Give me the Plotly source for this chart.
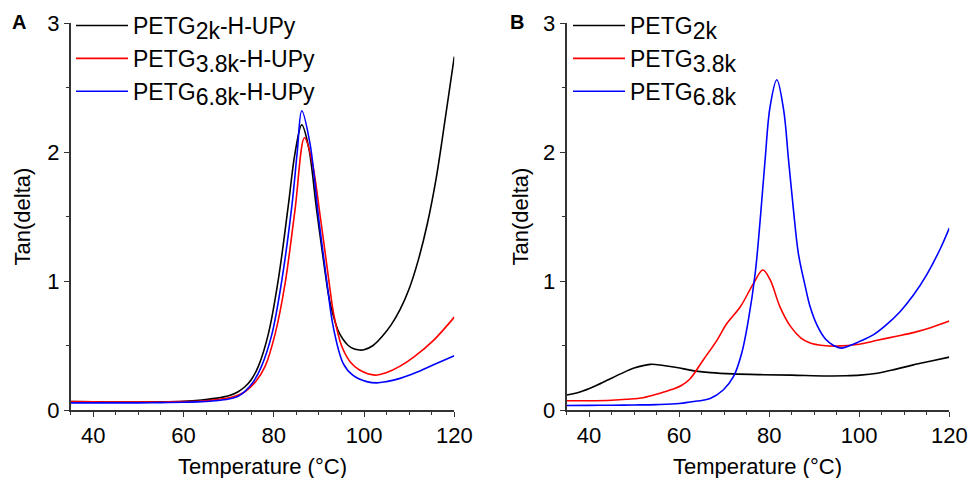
import plotly.graph_objects as go

# ---------------- Panel A data (PETG-H-UPy) ----------------
tA_2k = [35, 40, 45, 50, 55, 60, 64, 67, 70, 72, 73.6, 75, 76.6, 78.8, 81.0, 83.2, 84.7, 86.2, 87.7, 89.5, 91.4,
         92.3, 93.2, 94.2, 95.3, 96.5, 97.7, 99, 100, 102, 104, 106, 108, 110, 112, 114, 116, 118, 120]
yA_2k = [0.065, 0.063, 0.062, 0.062, 0.063, 0.068, 0.078, 0.09, 0.11, 0.14, 0.18, 0.235, 0.34, 0.59, 1.01, 1.58, 1.99,
         2.21, 2.04, 1.55, 1.06, 0.86, 0.73, 0.62, 0.55, 0.50, 0.475, 0.465, 0.467, 0.50, 0.57, 0.66, 0.78, 0.94,
         1.16, 1.44, 1.80, 2.26, 2.74]

tA_38k = [35, 40, 45, 50, 55, 60, 64, 67, 70, 72, 73.6, 76, 78.1, 80.3, 82.5, 84.7, 86.8, 88.4, 90.3, 92.1, 93.3,
          95, 97, 99, 102.5, 105, 108, 111, 115.4, 120]
yA_38k = [0.065, 0.063, 0.062, 0.062, 0.062, 0.065, 0.07, 0.08, 0.095, 0.115, 0.14, 0.22, 0.34, 0.59, 0.98, 1.55, 2.11,
          1.94, 1.50, 1.03, 0.74, 0.50, 0.37, 0.31, 0.27, 0.29, 0.34, 0.41, 0.54, 0.72]

tA_68k = [35, 40, 45, 50, 55, 60, 64, 67, 70, 72, 73.6, 75.5, 77.3, 79.6, 81.8, 84.0, 85.2, 86.2, 88.0, 89.9, 91.8,
          93.2, 95.4, 97.5, 100.6, 102.8, 105, 108, 111.5, 115.4, 120]
yA_68k = [0.055, 0.055, 0.055, 0.055, 0.057, 0.06, 0.065, 0.072, 0.085, 0.105, 0.145, 0.22, 0.34, 0.59, 1.01, 1.58, 2.0,
          2.32, 2.07, 1.50, 0.98, 0.64, 0.36, 0.27, 0.22, 0.21, 0.22, 0.245, 0.29, 0.35, 0.42]

# ---------------- Panel B data (PETG) ----------------
tB_2k = [35, 38, 41, 44, 47, 50, 53.6, 56.5, 59.5, 63, 67, 72, 78, 85, 92.8, 97, 100.2, 104, 108, 112, 116, 120]
yB_2k = [0.116, 0.14, 0.18, 0.23, 0.28, 0.325, 0.354, 0.345, 0.33, 0.305, 0.29, 0.28, 0.274, 0.27, 0.264, 0.265, 0.27,
         0.285, 0.315, 0.35, 0.38, 0.41]

tB_38k = [35, 40, 45, 48.4, 52, 55.8, 58.5, 60.5, 62.4, 65.4, 68.4, 70.6, 73.6, 76.5, 78.6, 80.2, 82.4, 84.7, 87,
          89.1, 92, 95, 100, 104, 108, 112, 116, 120]
yB_38k = [0.072, 0.072, 0.076, 0.083, 0.095, 0.13, 0.16, 0.19, 0.24, 0.39, 0.54, 0.67, 0.80, 0.98, 1.085, 1.01, 0.80,
          0.65, 0.56, 0.52, 0.50, 0.495, 0.51, 0.54, 0.57, 0.60, 0.64, 0.69]

tB_68k = [35, 40, 45, 50, 55, 60, 62.4, 66.9, 69.8, 72.1, 73.9, 75.4, 76.9, 78.0, 79.1, 80.2, 81.7, 83.2, 84.3, 85.4,
          86.5, 88, 89.1, 90.6, 92.5, 94.3, 96, 98, 100, 103, 106, 109, 112, 115, 118, 120]
yB_68k = [0.035, 0.036, 0.037, 0.039, 0.042, 0.05, 0.062, 0.09, 0.155, 0.26, 0.44, 0.70, 1.06, 1.47, 1.94, 2.35, 2.56,
          2.33, 1.94, 1.55, 1.21, 0.96, 0.80, 0.66, 0.55, 0.50, 0.48, 0.50, 0.53, 0.58, 0.66, 0.76, 0.89, 1.05, 1.25, 1.41]

SUB = "<sub><span style='font-size:23px'>{}</span></sub>"
namesA = ["PETG" + SUB.format("2k") + "-H-UPy", "PETG" + SUB.format("3.8k") + "-H-UPy", "PETG" + SUB.format("6.8k") + "-H-UPy"]
namesB = ["PETG" + SUB.format("2k"), "PETG" + SUB.format("3.8k"), "PETG" + SUB.format("6.8k")]
colors = ["#000000", "#ff0000", "#0000ff"]

FONT = "Liberation Sans, Arial, sans-serif"
fig = go.Figure()

for t, y, n, c in zip([tA_2k, tA_38k, tA_68k], [yA_2k, yA_38k, yA_68k], namesA, colors):
    fig.add_trace(go.Scatter(x=t, y=y, name=n, mode="lines",
                             line=dict(color=c, width=1.6, shape="spline", smoothing=1.0),
                             xaxis="x", yaxis="y", legend="legend"))
for t, y, n, c in zip([tB_2k, tB_38k, tB_68k], [yB_2k, yB_38k, yB_68k], namesB, colors):
    fig.add_trace(go.Scatter(x=t, y=y, name=n, mode="lines",
                             line=dict(color=c, width=1.6, shape="spline", smoothing=1.0),
                             xaxis="x2", yaxis="y2", legend="legend2"))

W, H = 971, 478
xdomA = [70.7 / W, 454.3 / W]
xdomB = [566.5 / W, 949.3 / W]
ydom = [1 - 410 / H, 1 - 23 / H]

axcommon = dict(showline=True, linecolor="#333333", linewidth=1.5, showgrid=False, zeroline=False,
                ticks="outside", ticklen=5, tickwidth=1.2, tickcolor="#333333",
                tickfont=dict(family=FONT, size=22, color="#000"), automargin=False, mirror=False)
xcommon = dict(axcommon, range=[35, 120], tickvals=[40, 60, 80, 100, 120],
               minor=dict(dtick=5, tick0=0, ticks="outside", ticklen=3, tickcolor="#333333", tickwidth=1))
ycommon = dict(axcommon, range=[0, 3], tickvals=[0, 1, 2, 3],
               minor=dict(dtick=0.5, tick0=0, ticks="outside", ticklen=3, tickcolor="#333333", tickwidth=1))

legcommon = dict(font=dict(family=FONT, size=23, color="#000"), bgcolor="rgba(0,0,0,0)",
                 xanchor="left", yanchor="top", itemwidth=52, tracegroupgap=0)

fig.update_layout(
    width=W, height=H, margin=dict(l=0, r=0, t=0, b=0),
    paper_bgcolor="white", plot_bgcolor="white",
    font=dict(family=FONT, size=22, color="#000"),
    xaxis=dict(xcommon, domain=xdomA, anchor="y"),
    yaxis=dict(ycommon, domain=ydom, anchor="x"),
    xaxis2=dict(xcommon, domain=xdomB, anchor="y2"),
    yaxis2=dict(ycommon, domain=ydom, anchor="x2"),
    legend=dict(legcommon, x=71 / W, y=1 - 4 / H),
    legend2=dict(legcommon, x=568 / W, y=1 - 4 / H),
    annotations=[
        dict(text="Temperature (°C)", x=(xdomA[0] + xdomA[1]) / 2, y=1 - 466 / H, xref="paper", yref="paper",
             showarrow=False, font=dict(size=22), xanchor="center", yanchor="middle"),
        dict(text="Temperature (°C)", x=(xdomB[0] + xdomB[1]) / 2, y=1 - 466 / H, xref="paper", yref="paper",
             showarrow=False, font=dict(size=22), xanchor="center", yanchor="middle"),
        dict(text="Tan(delta)", x=22 / W, y=(ydom[0] + ydom[1]) / 2, xref="paper", yref="paper",
             showarrow=False, font=dict(size=22), textangle=-90, xanchor="center", yanchor="middle"),
        dict(text="Tan(delta)", x=520 / W, y=(ydom[0] + ydom[1]) / 2, xref="paper", yref="paper",
             showarrow=False, font=dict(size=22), textangle=-90, xanchor="center", yanchor="middle"),
        dict(text="<b>A</b>", x=19 / W, y=1 - 22 / H, xref="paper", yref="paper",
             showarrow=False, font=dict(size=20), xanchor="center", yanchor="middle"),
        dict(text="<b>B</b>", x=517 / W, y=1 - 22 / H, xref="paper", yref="paper",
             showarrow=False, font=dict(size=20), xanchor="center", yanchor="middle"),
    ],
)

fig.write_html("out.html")
